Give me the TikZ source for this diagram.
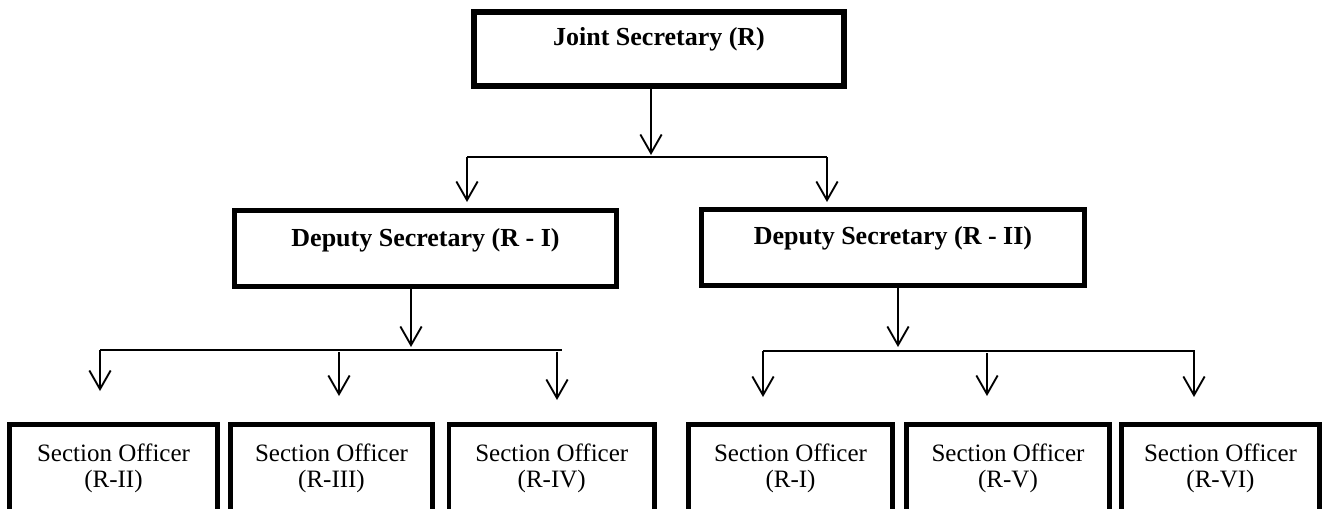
\documentclass[tikz,border=0pt]{standalone}
\usepackage{fontspec}
\setmainfont{Liberation Serif}
\usetikzlibrary{arrows.meta}
\begin{document}
\begin{tikzpicture}[x=0.75pt,y=-0.75pt,
  headbox/.style={draw, line width=3.8pt, rectangle, inner sep=0pt, outer sep=0pt,
    font=\fontsize{19.5}{23}\selectfont\bfseries, text height=12pt},
  sobox/.style={draw, line width=3.6pt, rectangle, inner sep=0pt, outer sep=0pt,
    anchor=north, minimum height=67.2pt, align=center,
    font=\fontsize{18.75}{19.5}\selectfont},
  arr/.style={line width=1.4pt, -{Straight Barb[length=14pt,width=16pt]}},
  hline/.style={line width=1.1pt}]
\useasboundingbox (0,0) rectangle (1328,508);
\clip (0,0) rectangle (1328,508);

% top
\node[headbox, minimum width=277.5pt, minimum height=55.5pt, text depth=18pt] (js) at (659,49) {Joint Secretary (R)};

% deputies
\node[headbox, minimum width=286.5pt, minimum height=57pt, text depth=15.75pt] (d1) at (425.5,248.5) {Deputy Secretary (R - I)};
\node[headbox, minimum width=287.25pt, minimum height=57pt, text depth=16.5pt] (d2) at (893,247.5) {Deputy Secretary (R - II)};

% section officers
\node[sobox, minimum width=156pt] (s1) at (113.5,424.5) {\strut Section Officer\\\strut (R-II)};
\node[sobox, minimum width=151.5pt] (s2) at (331.5,424.5) {\strut Section Officer\\\strut (R-III)};
\node[sobox, minimum width=154pt] (s3) at (551.75,424.5) {\strut Section Officer\\\strut (R-IV)};
\node[sobox, minimum width=153pt] (s4) at (790.5,424.5) {\strut Section Officer\\\strut (R-I)};
\node[sobox, minimum width=152.25pt] (s5) at (1008,424.5) {\strut Section Officer\\\strut (R-V)};
\node[sobox, minimum width=148.5pt] (s6) at (1220.5,424.5) {\strut Section Officer\\\strut (R-VI)};

% connectors: top level
\coordinate (jt) at (651,155);
\coordinate (hl0) at (467,157);
\coordinate (hr0) at (827,157);
\coordinate (t1) at (467,202);
\coordinate (t2) at (827,202);
\draw[arr] (js.south -| jt) -- (jt);
\draw[hline] (hl0) -- (hr0);
\draw[arr] (hl0) -- (t1);
\draw[arr] (hr0) -- (t2);

% connectors: left deputy
\coordinate (d1t) at (411,347);
\coordinate (hl1) at (100,350);
\coordinate (hr1) at (562,350);
\coordinate (b1s) at (100,350);
\coordinate (b1e) at (100,391);
\coordinate (b2s) at (339,352);
\coordinate (b2e) at (339,396);
\coordinate (b3s) at (557,352);
\coordinate (b3e) at (557,400);
\draw[arr] (d1.south -| d1t) -- (d1t);
\draw[hline] (hl1) -- (hr1);
\draw[arr] (b1s) -- (b1e);
\draw[arr] (b2s) -- (b2e);
\draw[arr] (b3s) -- (b3e);

% connectors: right deputy
\coordinate (d2t) at (898,347);
\coordinate (hl2) at (763,351);
\coordinate (hr2) at (1195,351);
\coordinate (b4s) at (763,351);
\coordinate (b4e) at (763,397);
\coordinate (b5s) at (987,353);
\coordinate (b5e) at (987,396);
\coordinate (b6s) at (1194,351);
\coordinate (b6e) at (1194,397);
\draw[arr] (d2.south -| d2t) -- (d2t);
\draw[hline] (hl2) -- (hr2);
\draw[arr] (b4s) -- (b4e);
\draw[arr] (b5s) -- (b5e);
\draw[arr] (b6s) -- (b6e);
\end{tikzpicture}
\end{document}
